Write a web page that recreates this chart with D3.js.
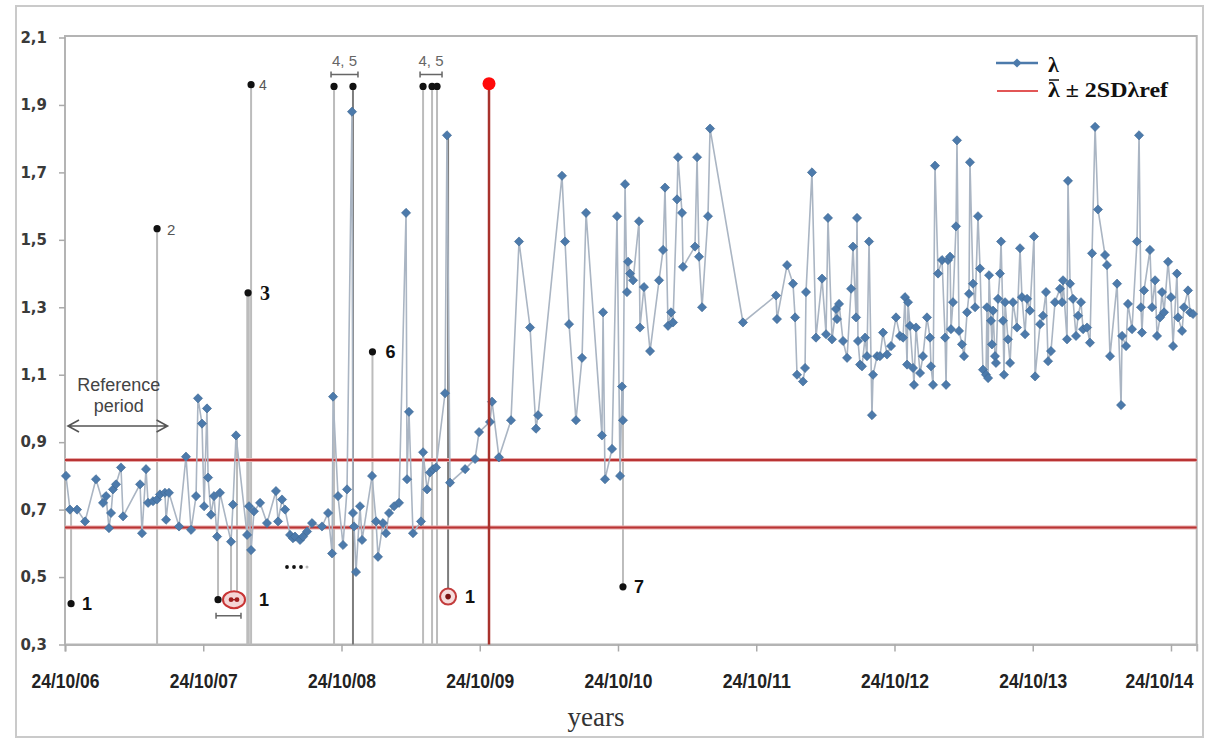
<!DOCTYPE html>
<html>
<head>
<meta charset="utf-8">
<script src="https://cdn.jsdelivr.net/npm/d3@7"></script>
<style>
  body { margin: 0; background: #fff; }
  svg { display: block; }
</style>
</head>
<body>
<svg id="chart" width="1205" height="740"></svg>
<script>
// λ measurements: decimal year of each sample and its value
const years = [
  2006.821, 2006.850, 2006.901, 2006.959, 2007.038, 2007.089, 2007.111, 2007.132, 2007.147, 2007.161,
  2007.183, 2007.219, 2007.234, 2007.357, 2007.371, 2007.400, 2007.415, 2007.451, 2007.480, 2007.501,
  2007.537, 2007.545, 2007.566, 2007.639, 2007.689, 2007.726, 2007.762, 2007.776, 2007.805, 2007.820,
  2007.841, 2007.849, 2007.870, 2007.892, 2007.914, 2007.935, 2008.015, 2008.029, 2008.051, 2008.131,
  2008.145, 2008.160, 2008.181, 2008.225, 2008.275, 2008.340, 2008.355, 2008.384, 2008.406, 2008.442,
  2008.463, 2008.478, 2008.514, 2008.536, 2008.565, 2008.601, 2008.673, 2008.717, 2008.746, 2008.753,
  2008.789, 2008.825, 2008.854, 2008.890, 2008.897, 2008.905, 2008.919, 2008.948, 2008.963, 2009.035,
  2009.064, 2009.078, 2009.114, 2009.136, 2009.158, 2009.194, 2009.230, 2009.281, 2009.288, 2009.302,
  2009.331, 2009.389, 2009.404, 2009.433, 2009.454, 2009.476, 2009.498, 2009.563, 2009.577, 2009.599,
  2009.708, 2009.780, 2009.809, 2009.888, 2009.903, 2009.953, 2010.040, 2010.098, 2010.178, 2010.221,
  2010.236, 2010.409, 2010.431, 2010.460, 2010.510, 2010.554, 2010.583, 2010.698, 2010.706, 2010.720,
  2010.771, 2010.807, 2010.829, 2010.843, 2010.850, 2010.865, 2010.879, 2010.887, 2010.901, 2010.923,
  2010.966, 2010.973, 2011.002, 2011.046, 2011.111, 2011.140, 2011.154, 2011.176, 2011.198, 2011.212,
  2011.241, 2011.248, 2011.277, 2011.284, 2011.371, 2011.386, 2011.400, 2011.422, 2011.465, 2011.480,
  2011.718, 2011.957, 2011.964, 2012.037, 2012.080, 2012.095, 2012.109, 2012.152, 2012.167, 2012.174,
  2012.217, 2012.246, 2012.290, 2012.319, 2012.333, 2012.362, 2012.391, 2012.398, 2012.413, 2012.442,
  2012.471, 2012.500, 2012.514, 2012.536, 2012.543, 2012.550, 2012.565, 2012.579, 2012.601, 2012.615,
  2012.630, 2012.651, 2012.659, 2012.688, 2012.709, 2012.731, 2012.760, 2012.789, 2012.825, 2012.854,
  2012.876, 2012.890, 2012.905, 2012.912, 2012.926, 2012.948, 2012.955, 2012.970, 2012.999, 2013.020,
  2013.049, 2013.071, 2013.078, 2013.093, 2013.107, 2013.129, 2013.158, 2013.180, 2013.187, 2013.201,
  2013.216, 2013.223, 2013.237, 2013.259, 2013.266, 2013.281, 2013.302, 2013.317, 2013.339, 2013.353,
  2013.360, 2013.382, 2013.397, 2013.418, 2013.433, 2013.454, 2013.476, 2013.483, 2013.491, 2013.498,
  2013.512, 2013.519, 2013.527, 2013.541, 2013.548, 2013.563, 2013.577, 2013.585, 2013.599, 2013.606,
  2013.614, 2013.635, 2013.650, 2013.671, 2013.700, 2013.722, 2013.736, 2013.758, 2013.773, 2013.794,
  2013.823, 2013.831, 2013.867, 2013.888, 2013.910, 2013.925, 2013.946, 2013.975, 2014.011, 2014.026,
  2014.033, 2014.062, 2014.069, 2014.084, 2014.105, 2014.127, 2014.142, 2014.163, 2014.178, 2014.207,
  2014.228, 2014.243, 2014.265, 2014.286, 2014.337, 2014.351, 2014.373, 2014.424, 2014.453, 2014.460,
  2014.489, 2014.503, 2014.532, 2014.568, 2014.583, 2014.597, 2014.604, 2014.619, 2014.662, 2014.677,
  2014.699, 2014.713, 2014.735, 2014.749, 2014.764, 2014.793, 2014.814, 2014.829, 2014.857, 2014.865,
  2014.894, 2014.908, 2014.937, 2014.952, 2014.973
];
const lambda = [
  0.80, 0.70, 0.70, 0.665, 0.79, 0.72, 0.74, 0.645, 0.69, 0.76,
  0.775, 0.825, 0.68, 0.775, 0.63, 0.82, 0.72, 0.725, 0.73, 0.745,
  0.75, 0.67, 0.75, 0.65, 0.857, 0.64, 0.74, 1.03, 0.955, 0.71,
  1.00, 0.795, 0.685, 0.74, 0.62, 0.75, 0.605, 0.715, 0.92, 0.625,
  0.71, 0.58, 0.695, 0.72, 0.66, 0.755, 0.665, 0.73, 0.70, 0.625,
  0.615, 0.62, 0.61, 0.62, 0.635, 0.66, 0.65, 0.69, 0.57, 1.035,
  0.74, 0.595, 0.76, 1.88, 0.69, 0.65, 0.515, 0.71, 0.61, 0.80,
  0.665, 0.56, 0.66, 0.63, 0.69, 0.71, 0.72, 1.58, 0.79, 0.99,
  0.63, 0.665, 0.87, 0.76, 0.81, 0.82, 0.825, 1.045, 1.81, 0.78,
  0.82, 0.85, 0.93, 0.96, 1.02, 0.855, 0.965, 1.495, 1.24, 0.94,
  0.98, 1.69, 1.495, 1.25, 0.965, 1.15, 1.58, 0.92, 1.285, 0.79,
  0.88, 1.57, 0.80, 1.065, 0.965, 1.665, 1.345, 1.435, 1.40, 1.38,
  1.555, 1.24, 1.36, 1.17, 1.38, 1.47, 1.655, 1.245, 1.285, 1.255,
  1.62, 1.745, 1.58, 1.42, 1.48, 1.745, 1.45, 1.30, 1.57, 1.83,
  1.255, 1.335, 1.265, 1.425, 1.37, 1.27, 1.10, 1.08, 1.12, 1.345,
  1.70, 1.21, 1.385, 1.22, 1.565, 1.205, 1.295, 1.265, 1.31, 1.20,
  1.15, 1.355, 1.48, 1.27, 1.565, 1.20, 1.13, 1.125, 1.21, 1.155,
  1.495, 0.98, 1.10, 1.155, 1.155, 1.225, 1.16, 1.185, 1.27, 1.215,
  1.21, 1.33, 1.13, 1.315, 1.245, 1.12, 1.07, 1.24, 1.105, 1.155,
  1.27, 1.21, 1.125, 1.07, 1.72, 1.40, 1.44, 1.21, 1.07, 1.44,
  1.45, 1.235, 1.315, 1.54, 1.795, 1.23, 1.19, 1.155, 1.285, 1.34,
  1.73, 1.37, 1.30, 1.57, 1.415, 1.115, 1.10, 1.30, 1.09, 1.395,
  1.26, 1.19, 1.29, 1.155, 1.135, 1.325, 1.40, 1.495, 1.26, 1.10,
  1.315, 1.205, 1.135, 1.315, 1.24, 1.475, 1.33, 1.22, 1.325, 1.29,
  1.51, 1.095, 1.25, 1.275, 1.345, 1.14, 1.17, 1.315, 1.355, 1.315,
  1.38, 1.205, 1.675, 1.37, 1.325, 1.215, 1.275, 1.315, 1.235, 1.24,
  1.195, 1.46, 1.835, 1.59, 1.455, 1.425, 1.155, 1.37, 1.01, 1.215,
  1.185, 1.31, 1.235, 1.495, 1.81, 1.30, 1.225, 1.35, 1.47, 1.30,
  1.38, 1.215, 1.27, 1.345, 1.285, 1.435, 1.33, 1.185, 1.40, 1.27,
  1.23, 1.30, 1.35, 1.285, 1.28
];

// reference-period statistics (mean λ and its standard deviation)
const refMean = 0.747;
const refSD = 0.05;

// x axis: anniversaries 24/10 of each year
const tickYears = [2006.814, 2007.814, 2008.814, 2009.814, 2010.814, 2011.814, 2012.814, 2013.814, 2014.814];
const tickLabels = ["24/10/06", "24/10/07", "24/10/08", "24/10/09", "24/10/10", "24/10/11", "24/10/12", "24/10/13", "24/10/14"];
const yTicks = [0.3, 0.5, 0.7, 0.9, 1.1, 1.3, 1.5, 1.7, 1.9, 2.1];

// reference period and the alert time
const refStart = 2006.814, refEnd = 2007.534;
const alertYear = 2009.881, alertValue = 1.963;

// numbered events: year, value of the marker dot, value at the other end of its stem
const eventYears  = [2006.858, 2007.480, 2008.138, 2008.160, 2008.760, 2008.897, 2009.038, 2009.404, 2009.469, 2009.505, 2009.585, 2007.921, 2008.015, 2008.058, 2010.850];
const eventDots   = [0.421,    1.533,    1.343,    1.960,    1.955,    1.955,    1.168,    1.955,    1.955,    1.955,    0.442,    0.433,    0.433,    0.433,    0.471];
const eventEnds   = [0.70,     0.30,     0.30,     0.30,     0.30,     0.30,     0.30,     0.30,     0.30,     0.30,     1.81,     0.62,     0.605,    0.92,     0.965];
const eventKinds  = ["dot",    "dot",    "dot",    "dot",    "dot",    "dot",    "dot",    "dot",    "dot",    "dot",    "ring",   "dot",    "oval",   "oval",   "dot"];

const svg = d3.select("#chart");

const x = d3.scaleLinear().domain([2006.814, 2015.0]).range([65, 1196.7]);
const y = d3.scaleLinear().domain([0.3, 2.1]).range([644.5, 37.5]);

// outer frame
svg.append("rect").attr("x", 16).attr("y", 6).attr("width", 1187).attr("height", 731)
  .attr("fill", "#fff").attr("stroke", "#cacaca").attr("stroke-width", 2);

// plot frame
svg.append("rect").attr("x", x.range()[0]).attr("y", y(2.1) - 1.5)
  .attr("width", x.range()[1] - x.range()[0]).attr("height", y(0.3) - y(2.1) + 1.5)
  .attr("fill", "none").attr("stroke", "#b4b4b4").attr("stroke-width", 2);

// y axis
const yAxis = svg.append("g").attr("transform", `translate(${x.range()[0]},0)`)
  .call(d3.axisLeft(y).tickValues(yTicks).tickSize(6).tickPadding(12)
    .tickFormat(d => d.toFixed(1).replace(".", ",")));
yAxis.select(".domain").remove();
yAxis.selectAll(".tick line").attr("stroke", "#aaa").attr("stroke-width", 1.5);
yAxis.selectAll(".tick text")
  .attr("font-family", "DejaVu Sans, sans-serif").attr("font-weight", "bold")
  .attr("font-size", 15).attr("fill", "#3a3a3a");

// x axis
const xAxis = svg.append("g").attr("transform", `translate(0,${y(0.3)})`)
  .call(d3.axisBottom(x).tickValues(tickYears).tickSize(7)
    .tickFormat((d, i) => tickLabels[i]));
xAxis.select(".domain").attr("stroke", "#b4b4b4").attr("stroke-width", 2);
xAxis.selectAll(".tick line").attr("stroke", "#aaa").attr("stroke-width", 1.5);
xAxis.selectAll(".tick text")
  .attr("y", 43).attr("dy", 0)
  .attr("font-family", "Liberation Sans, Arial, sans-serif").attr("font-weight", "bold")
  .attr("font-size", 20).attr("fill", "#222")
  .attr("textLength", 68).attr("lengthAdjust", "spacingAndGlyphs");
// keep the last label inside the frame
xAxis.selectAll(".tick text").filter((d, i) => i === tickYears.length - 1)
  .attr("x", -12);

svg.append("text").attr("x", 596).attr("y", 726).attr("text-anchor", "middle")
  .attr("font-family", "Liberation Serif, Times New Roman, serif")
  .attr("font-size", 27).attr("fill", "#333").text("years");

// event stems
const stems = svg.append("g");
eventYears.forEach((t, i) => {
  const dark = (i === 5 || i === 10);
  stems.append("line")
    .attr("x1", x(t)).attr("x2", x(t))
    .attr("y1", y(eventDots[i])).attr("y2", y(eventEnds[i]))
    .attr("stroke", dark ? "#7d7d7d" : "#bcbcbc")
    .attr("stroke-width", i === 2 ? 3.5 : 2);
});

// reference band: mean ± 2 SD
[refMean + 2 * refSD, refMean - 2 * refSD].forEach(v => {
  svg.append("line").attr("x1", x.range()[0]).attr("x2", x.range()[1])
    .attr("y1", y(v)).attr("y2", y(v))
    .attr("stroke", "#e7a9a9").attr("stroke-width", 4);
  svg.append("line").attr("x1", x.range()[0]).attr("x2", x.range()[1])
    .attr("y1", y(v)).attr("y2", y(v))
    .attr("stroke", "#b93434").attr("stroke-width", 2);
});

// λ series
const pts = years.map((t, i) => [t, lambda[i]]);
svg.append("path").datum(pts)
  .attr("fill", "none").attr("stroke", "#aab5c3").attr("stroke-width", 1.6)
  .attr("d", d3.line().x(d => x(d[0])).y(d => y(d[1])));

const diamond = d3.symbol().type(d3.symbolSquare).size(42);
svg.append("g").selectAll("path").data(pts).join("path")
  .attr("d", diamond)
  .attr("transform", d => `translate(${x(d[0])},${y(d[1])}) rotate(45)`)
  .attr("fill", "#4c7aab").attr("stroke", "#3f6894").attr("stroke-width", 0.6);

// alert line
svg.append("line").attr("x1", x(alertYear)).attr("x2", x(alertYear))
  .attr("y1", y(alertValue)).attr("y2", y(0.3))
  .attr("stroke", "#a8322c").attr("stroke-width", 2.5);
svg.append("circle").attr("cx", x(alertYear)).attr("cy", y(alertValue)).attr("r", 6.5)
  .attr("fill", "#ff0a0a");

// event markers
const ann = svg.append("g");
const boldLabel = (sel) => sel.attr("font-family", "Liberation Sans, Arial, sans-serif")
  .attr("font-weight", "bold").attr("font-size", 18).attr("fill", "#111");
eventYears.forEach((t, i) => {
  const cx = x(t), cy = y(eventDots[i]);
  if (eventKinds[i] === "dot") {
    ann.append("circle").attr("cx", cx).attr("cy", cy).attr("r", 3.6).attr("fill", "#111");
  } else if (eventKinds[i] === "ring") {
    ann.append("circle").attr("cx", cx).attr("cy", cy).attr("r", 8)
      .attr("fill", "#f6dcdc").attr("stroke", "#c23c3c").attr("stroke-width", 2);
    ann.append("circle").attr("cx", cx).attr("cy", cy).attr("r", 2.8).attr("fill", "#7a1414");
  }
});

// oval around the paired events
{
  const a = x(eventYears[12]), b = x(eventYears[13]), cy = y(eventDots[12]);
  ann.append("ellipse").attr("cx", (a + b) / 2).attr("cy", cy).attr("rx", 11).attr("ry", 8.5)
    .attr("fill", "#f5d6d6").attr("stroke", "#c83434").attr("stroke-width", 2);
  ann.append("line").attr("x1", a).attr("x2", b).attr("y1", cy).attr("y2", cy)
    .attr("stroke", "#a01e1e").attr("stroke-width", 1.5);
  [a, b].forEach(cx => ann.append("circle").attr("cx", cx).attr("cy", cy).attr("r", 2.4).attr("fill", "#a01e1e"));
}

// labels
const lab = (t, v, dx, txt) => ann.append("text").attr("x", x(t) + dx).attr("y", y(v) + 6).text(txt);
boldLabel(lab(eventYears[0], eventDots[0], 11, "1"));
boldLabel(lab(eventYears[13], eventDots[13], 22, "1"));
boldLabel(lab(eventYears[10], eventDots[10], 17, "1"));
boldLabel(lab(eventYears[6], eventDots[6], 13, "6").attr("font-size", 17));
boldLabel(lab(eventYears[14], eventDots[14], 11, "7"));
lab(eventYears[2], eventDots[2], 12, "3")
  .attr("font-family", "Liberation Serif, Times New Roman, serif").attr("font-weight", "bold")
  .attr("font-size", 20).attr("fill", "#111").attr("y", y(eventDots[2]) + 7);
lab(eventYears[1], eventDots[1], 10, "2")
  .attr("font-family", "Liberation Sans, Arial, sans-serif").attr("font-size", 15).attr("fill", "#555");
lab(eventYears[3], eventDots[3], 8, "4")
  .attr("font-family", "Liberation Sans, Arial, sans-serif").attr("font-size", 14).attr("fill", "#555")
  .attr("y", y(eventDots[3]) + 5);

// brackets: "4, 5" groups above, paired "1" group below
const bracket = (x1, x2, yy) => {
  ann.append("path")
    .attr("d", `M${x1},${yy - 3}V${yy + 3}M${x1},${yy}H${x2}M${x2},${yy - 3}V${yy + 3}`)
    .attr("fill", "none").attr("stroke", "#666").attr("stroke-width", 1.5);
};
[[4, 5], [7, 9]].forEach(([i0, i1]) => {
  const x1 = x(eventYears[i0]) - 3, x2 = x(eventYears[i1]) + 5;
  bracket(x1, x2, y(eventDots[i0]) - 12);
  ann.append("text").attr("x", (x1 + x2) / 2).attr("y", y(eventDots[i0]) - 20)
    .attr("text-anchor", "middle").attr("font-family", "Liberation Sans, Arial, sans-serif")
    .attr("font-size", 15).attr("fill", "#666").text("4, 5");
});
bracket(x(eventYears[11]) - 2, x(eventYears[13]) + 4, y(eventDots[11]) + 16);

// ellipsis marking the omitted samples
[0, 7, 14].forEach(d => ann.append("circle").attr("cx", 287 + d).attr("cy", 567).attr("r", 1.9).attr("fill", "#111"));
ann.append("circle").attr("cx", 307).attr("cy", 567).attr("r", 1.5).attr("fill", "#bbb");

// reference period arrow
{
  const x1 = x(refStart) + 3, x2 = x(refEnd) + 3, ya = 426;
  ann.append("path")
    .attr("d", `M${x1},${ya}H${x2}M${x1 + 11},${ya - 6}L${x1},${ya}L${x1 + 11},${ya + 6}M${x2 - 11},${ya - 6}L${x2},${ya}L${x2 - 11},${ya + 6}`)
    .attr("fill", "none").attr("stroke", "#555").attr("stroke-width", 1.6);
  const tx = (x1 + x2) / 2 + 1;
  ["Reference", "period"].forEach((s, k) => ann.append("text")
    .attr("x", tx).attr("y", 391 + k * 21).attr("text-anchor", "middle")
    .attr("font-family", "Liberation Sans, Arial, sans-serif").attr("font-size", 18)
    .attr("fill", "#444").text(s));
}

// legend
{
  const lg = svg.append("g");
  lg.append("line").attr("x1", 996).attr("x2", 1038).attr("y1", 63).attr("y2", 63)
    .attr("stroke", "#4c7aab").attr("stroke-width", 2.5);
  lg.append("path").attr("d", diamond).attr("transform", "translate(1017,63) rotate(45)")
    .attr("fill", "#4c7aab");
  lg.append("text").attr("x", 1048).attr("y", 72)
    .attr("font-family", "Liberation Serif, Times New Roman, serif").attr("font-weight", "bold")
    .attr("font-size", 22).attr("fill", "#111").text("λ");
  lg.append("line").attr("x1", 997).attr("x2", 1038).attr("y1", 91).attr("y2", 91)
    .attr("stroke", "#e25656").attr("stroke-width", 2);
  lg.append("line").attr("x1", 1049).attr("x2", 1059).attr("y1", 80).attr("y2", 80)
    .attr("stroke", "#111").attr("stroke-width", 1.5);
  lg.append("text").attr("x", 1048).attr("y", 97)
    .attr("font-family", "Liberation Serif, Times New Roman, serif").attr("font-weight", "bold")
    .attr("font-size", 21).attr("fill", "#111")
    .attr("textLength", 120).attr("lengthAdjust", "spacingAndGlyphs")
    .text("λ ± 2SDλref");
}
</script>
</body>
</html>
